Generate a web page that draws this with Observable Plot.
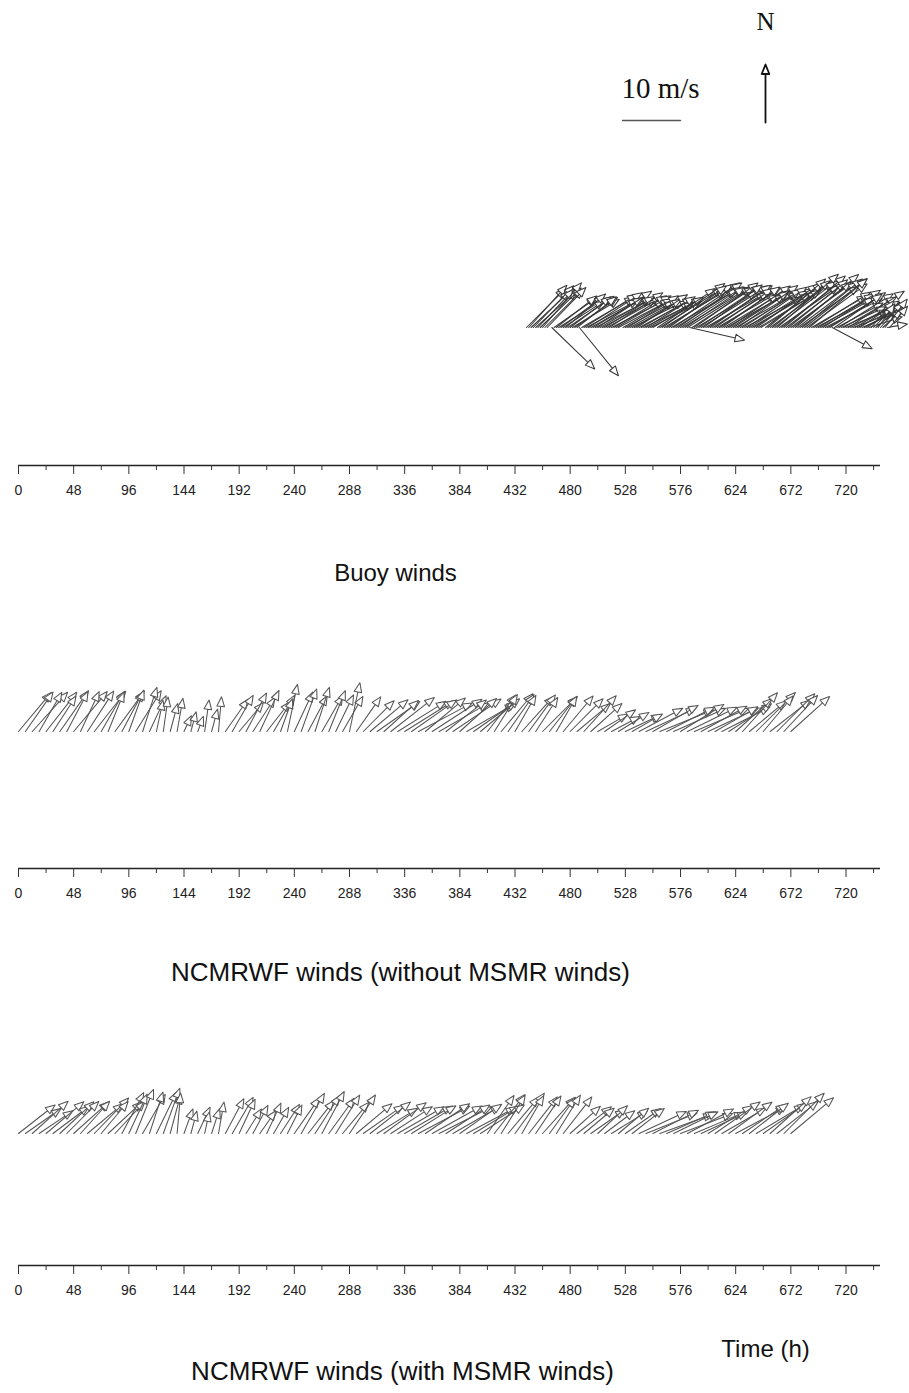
<!DOCTYPE html>
<html>
<head>
<meta charset="utf-8">
<script src="https://cdn.jsdelivr.net/npm/d3@7"></script>
<script src="https://cdn.jsdelivr.net/npm/@observablehq/plot@0.6"></script>
<style>
  body { margin: 0; background: #fff; }
  #chart svg { display: block; }
</style>
</head>
<body>
<div id="chart"></div>
<script>
// ---------- tick labels / text ----------
const xTicksMajor = [0, 48, 96, 144, 192, 240, 288, 336, 384, 432, 480, 528, 576, 624, 672, 720];
const xTicksMinor = [24, 72, 120, 168, 216, 264, 312, 360, 408, 456, 504, 552, 600, 648, 696, 744];
const panelTitles = ["Buoy winds", "NCMRWF winds (without MSMR winds)", "NCMRWF winds (with MSMR winds)"];
const timeLabel = "Time (h)";
const scaleLabel = "10 m/s";
const northLabel = "N";
const referenceSpeed = [10];

// ---------- buoy winds (2-hourly, null = missing) ----------
const buoyHours = d3.range(442, 759, 2);
const buoySpeed = [
  9.5, 9.8, 9.2, 10.0, 9.6, 9.0, 9.8, 10.2, 9.4, 9.6,
  null, 10.3,
  9.0, 8.8, 9.5, 9.2, 8.5, 9.0, 9.6, 8.8, 9.4, 9.0, 8.6,
  10.7,
  10.5, 10.8, 10.2, 11.0, 10.6, 10.0, 10.9, 11.2, 10.4, 10.7, 10.1, 10.8, 11.0, 10.3, 10.6, 10.9, 10.2,
  null,
  10.0, 9.6, 10.3, 9.8, 10.1, 9.5, 10.4, 9.9, 10.2, 9.7, 10.0, 10.5, 9.8, 10.1,
  null,
  12.0, 12.8, 13.2, 12.5, 13.5, 12.2, 13.0, 13.8, 12.6, 13.4, 12.9, 13.6, 12.4, 13.1,
  9.7,
  12.8, 13.4, 12.2, 13.0, 13.6, 12.5, 12.0, 13.2, 12.7,
  11.5, 12.0, 11.8, 12.5, 12.2, 11.0, 11.6, 12.8, 12.0, 11.4, 12.3, 12.6, 11.8, 12.1, 11.2, 12.4, 12.0, 11.7, 12.5, 12.9, 11.9, 12.2,
  null,
  12.5, 13.0, 13.5, 12.8, 13.2, 14.0, 12.6, 13.4, 13.8, 12.9, 13.1, 13.6, 12.7, 14.2, 13.0, 12.4, 13.3, 13.7, 12.8, 13.0,
  11.0, 11.5, 10.8, 11.2, 10.5, 11.8, 11.0, 10.6, 11.3,
  7.8,
  10.0, 9.0, 11.0, 8.5, 10.5, 8.0, 11.5, 9.5, 7.5, 8.0, 7.0, 8.2, 7.5, 6.8, 7.2, 6.0,
  6.0, 5.5, 6.5, 5.0, 5.8, 4.5, 6.2, 3.5, 4.8
];
const buoyDir = [
  45, 42, 47, 44, 48, 43, 46, 41, 45, 44,
  null, 134,
  55, 52, 58, 54, 57, 50, 56, 53, 59, 55, 52,
  141,
  60, 58, 62, 57, 61, 59, 63, 56, 60, 62, 58, 61, 57, 63, 59, 60, 62,
  null,
  60, 62, 58, 61, 63, 59, 57, 62, 60, 64, 58, 61, 63, 59,
  null,
  56, 58, 55, 59, 57, 54, 60, 56, 58, 55, 57, 59, 56, 58,
  103,
  57, 55, 59, 56, 58, 54, 60, 57, 55,
  58, 56, 60, 57, 55, 59, 61, 56, 58, 57, 60, 55, 59, 57, 62, 56, 58, 60, 57, 55, 59, 58,
  null,
  52, 50, 54, 51, 53, 49, 55, 52, 50, 53, 51, 54, 52, 50, 53, 55, 51, 52, 54, 50,
  60, 58, 62, 59, 61, 57, 63, 60, 58,
  118,
  55, 62, 58, 65, 60, 68, 57, 63, 70, 59, 64, 56, 66, 61, 58, 72,
  40, 45, 50, 35, 42, 48, 38, 80, 40
];

// ---------- NCMRWF winds (6-hourly) ----------
const ncmrwfHours = d3.range(0, 673, 6);
const noMsmrSpeed = [
  8.8, 8.3, 9.1, 7.8, 8.6, 7.3,
  8.6, 7.8, 9.0, 7.6, 8.3, 8.8, 8.0, 7.3, 8.6, 7.8, 7.6, 8.3, 8.0, 6.8,
  5.5, 6.0, 5.0, 5.8,
  3.0, 3.5, 2.8,
  5.5, 4.0, 6.0,
  6.8, 7.2, 6.5, 7.5, 7.0, 7.8, 6.5, 7.2, 6.0,
  8.3,
  7.5, 7.8, 7.0, 8.0, 7.2, 7.6, 7.0,
  7.0, 8.6, 7.3,
  7.5, 8.5, 9.0, 8.0, 9.5, 9.8,
  10.0, 9.5, 10.5, 9.0, 10.2, 9.8, 8.8, 10.0, 8.5, 9.6, 9.0, 8.8,
  8.0, 7.5, 8.5, 7.8, 7.2, 8.2, 7.8, 7.0, 8.5, 7.6, 7.0, 8.0,
  8.0, 7.5, 8.3, 7.2,
  6.0, 6.5, 5.5, 6.2, 6.8, 6.0,
  8.5, 9.5, 9.0, 10.0, 9.2, 9.8, 8.8, 9.5, 10.2, 9.0, 9.6, 8.5, 9.3, 8.8,
  8.5, 9.0, 8.2, 9.5, 8.0, 8.8, 9.2, 8.5, 9.0
];
const noMsmrDir = [
  40, 35, 42, 30, 38, 33,
  35, 28, 40, 25, 33, 38, 30, 22, 36, 28, 20, 32, 18, 25,
  12, 8, 15, 10,
  25, 15, 20,
  8, 15, 5,
  35, 30, 40, 28, 33, 25, 38, 30, 20,
  12,
  25, 20, 28, 18, 30, 22, 26,
  30, 12, 35,
  45, 50, 55, 48, 52, 58,
  58, 55, 62, 50, 57, 60, 52, 56, 48, 60, 55, 50,
  38, 32, 40, 35, 30, 42, 36, 33, 45, 38, 30, 40,
  45, 50, 42, 48,
  60, 55, 62, 58, 65, 60,
  62, 65, 60, 68, 63, 66, 58, 64, 67, 61, 65, 60, 63, 57,
  48, 42, 50, 45, 40, 52, 45, 43, 48
];
const msmrSpeed = [
  8.0, 7.5, 8.3, 7.0, 8.5, 7.8, 8.0,
  7.8, 8.2, 7.5, 8.0, 8.5, 7.2, 8.0, 7.6,
  8.0, 7.5, 8.2, 7.8, 7.5, 8.0, 8.3, 7.0,
  7.0,
  4.5, 4.0, 5.0, 3.8, 4.5, 5.5,
  6.8, 7.2, 6.5,
  5.0, 5.5, 4.8, 5.8, 5.2, 6.0, 5.5,
  7.5, 8.0, 7.2, 7.8, 8.2, 7.5, 7.8, 7.0, 8.0,
  8.0, 8.5, 8.8, 8.2, 9.0, 8.5, 9.2,
  9.5, 9.0, 10.0, 9.2, 9.8, 10.2, 9.0, 9.5, 8.8, 9.6, 9.2, 9.0,
  8.0, 8.5, 7.8, 8.2, 8.6, 7.5, 8.0, 7.8, 8.4, 7.6, 7.8, 8.0,
  7.0, 7.5, 6.8, 7.2, 7.0, 6.5, 7.3, 6.8, 7.5, 7.0,
  9.0, 9.5, 8.8, 9.8, 9.2, 8.5, 9.6, 9.0, 9.3, 8.8,
  9.0, 9.5, 8.8, 9.2, 9.8, 9.0, 8.5, 9.6, 9.2,
  9.5, 9.0, 9.8, 9.6
];
const msmrDir = [
  52, 55, 48, 56, 50, 53, 47,
  45, 48, 42, 50, 44, 40, 47, 43,
  28, 25, 22, 30, 18, 26, 20, 15,
  5,
  20, 15, 25, 12, 18, 10,
  28, 30, 25,
  32, 28, 35, 25, 30, 33, 27,
  35, 30, 38, 33, 28, 36, 32, 40, 34,
  50, 55, 52, 58, 54, 57, 60,
  60, 58, 62, 56, 61, 63, 57, 60, 55, 62, 59, 57,
  35, 38, 32, 40, 36, 30, 38, 34, 42, 36, 32, 38,
  48, 52, 50, 55, 47, 53, 58, 50, 55, 52,
  65, 68, 63, 70, 66, 64, 69, 62, 67, 65,
  58, 55, 60, 54, 62, 56, 52, 59, 55,
  48, 52, 45, 50
];

// ---------- build tables ----------
function table(hours, speed, dir) {
  return hours.map((t, i) => ({t, s: speed[i], d: dir[i]}))
    .filter(r => r.s != null && r.d != null);
}
const buoy = table(buoyHours, buoySpeed, buoyDir);
const noMsmr = table(ncmrwfHours, noMsmrSpeed, noMsmrDir);
const withMsmr = table(ncmrwfHours, msmrSpeed, msmrDir);

// ---------- shapes ----------
const openArrow = {
  draw(ctx, l) {
    const h = 9.5, w = 3.8;
    ctx.moveTo(0, 0);
    ctx.lineTo(0, h - l);
    ctx.moveTo(0, -l);
    ctx.lineTo(-w, h - l);
    ctx.lineTo(w, h - l);
    ctx.closePath();
  }
};
const barShape = { draw(ctx, l) { ctx.moveTo(0, 0); ctx.lineTo(0, -l); } };

const sans = "'Liberation Sans', Arial, Helvetica, sans-serif";
const serif = "'Liberation Serif', 'Times New Roman', serif";

function panel({data, stroke, height, marginBottom, baseDy, caption, captionSize, captionDx, captionDy, extra = []}) {
  return Plot.plot({
    width: 909,
    height,
    marginLeft: 18,
    marginRight: 29,
    marginTop: 0,
    marginBottom,
    x: {domain: [0, 750], axis: null},
    y: {domain: [0, 1], axis: null},
    length: {domain: [0, 10], range: [0, 58]},
    style: {fontFamily: sans, fontSize: "14px", background: "white", color: "#222"},
    marks: [
      Plot.ruleY([0], {x1: 0, x2: 750, stroke: "#222", strokeWidth: 1.4}),
      Plot.axisX({ticks: xTicksMinor, tickSize: 5, tickFormat: () => "", label: null, stroke: "#333"}),
      Plot.axisX({ticks: xTicksMajor, tickSize: 9, tickPadding: 11, label: null, fontSize: 14, fill: "#222", stroke: "#333"}),
      Plot.vector(data, {
        x: "t", length: "s", rotate: "d", anchor: "start", shape: openArrow,
        stroke, strokeWidth: 1.05, fill: "white",
        frameAnchor: "bottom", dy: baseDy
      }),
      Plot.text([caption], {text: d => d, frameAnchor: "bottom-left", textAnchor: "middle", dx: captionDx, dy: captionDy, fontSize: captionSize, fill: "#111"}),
      ...extra
    ]
  });
}

const legendMarks = [
  Plot.text([northLabel], {text: d => d, frameAnchor: "top-left", textAnchor: "middle", dx: 747, dy: 12, fontSize: 25, fontFamily: serif, fill: "#111"}),
  Plot.vector(referenceSpeed, {length: d => d, rotate: 0, anchor: "start", shape: openArrow, stroke: "#111", strokeWidth: 1.8, fill: "white", frameAnchor: "top-left", dx: 747, dy: 122}),
  Plot.text([scaleLabel], {text: d => d, frameAnchor: "top-left", textAnchor: "middle", dx: 642, dy: 77, fontSize: 29, fontFamily: serif, fill: "#111"}),
  Plot.vector(referenceSpeed, {length: d => d, rotate: 90, anchor: "start", shape: barShape, stroke: "#555", strokeWidth: 1.3, frameAnchor: "top-left", dx: 604, dy: 120})
];

const chart = document.getElementById("chart");
chart.append(panel({data: buoy, stroke: "#383838", height: 590, marginBottom: 125, baseDy: -138,
  caption: panelTitles[0], captionSize: 24, captionDx: 377, captionDy: 115, extra: legendMarks}));
chart.append(panel({data: noMsmr, stroke: "#555", height: 400, marginBottom: 122, baseDy: -137,
  caption: panelTitles[1], captionSize: 26, captionDx: 382, captionDy: 112}));
chart.append(panel({data: withMsmr, stroke: "#555", height: 403, marginBottom: 128, baseDy: -132,
  caption: panelTitles[2], captionSize: 26, captionDx: 384, captionDy: 114,
  extra: [Plot.text([timeLabel], {text: d => d, frameAnchor: "bottom-left", textAnchor: "middle", dx: 747, dy: 91, fontSize: 24, fill: "#111"})]}));
</script>
</body>
</html>
